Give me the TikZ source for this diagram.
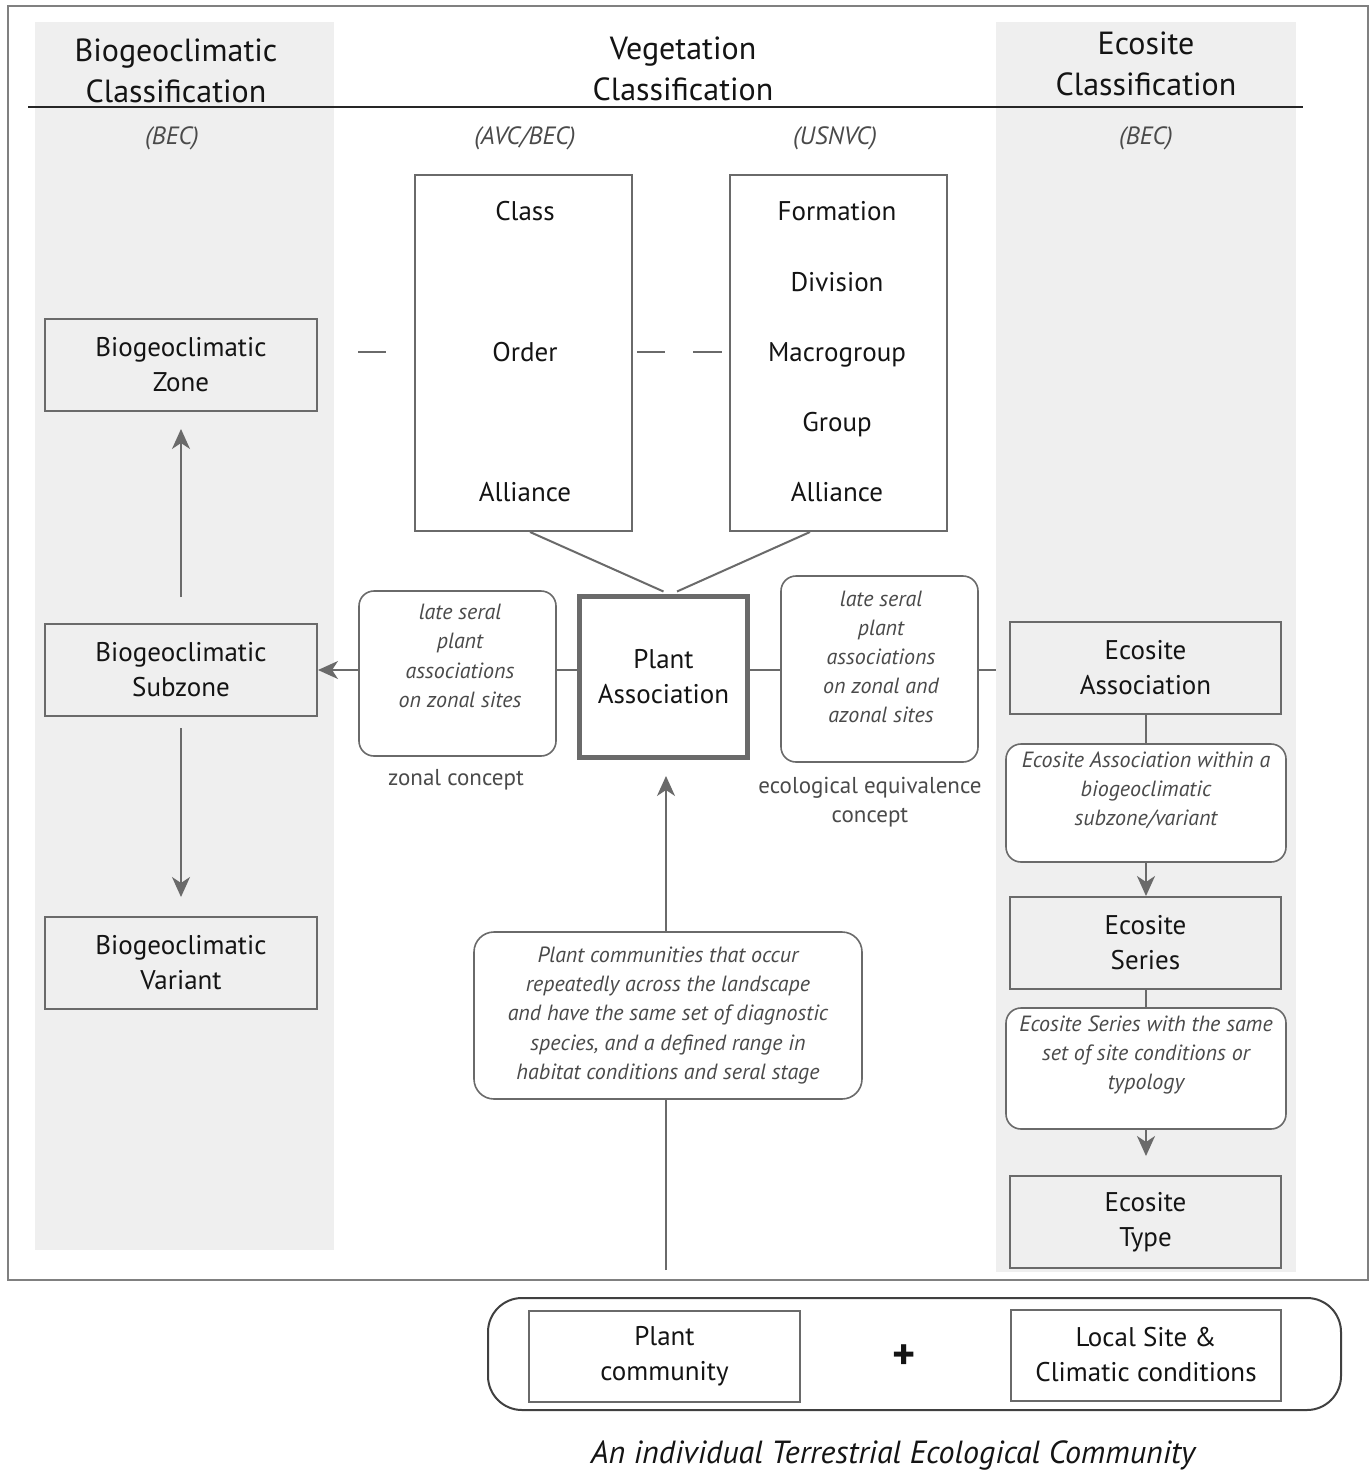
\documentclass[tikz,border=0pt]{standalone}
\usepackage{fontspec}
\setmainfont{PT Sans}
\usetikzlibrary{arrows.meta,calc}
\definecolor{bandc}{HTML}{EFEFEF}
\definecolor{linec}{HTML}{6A6A6A}
\definecolor{framec}{HTML}{808080}
\definecolor{txtc}{HTML}{141414}
\definecolor{itxtc}{HTML}{4A4A4A}
\newcommand{\boxfont}{\fontsize{13.5}{17.5}\selectfont}
\newcommand{\headfont}{\fontsize{16}{20.5}\selectfont}
\newcommand{\itfont}{\fontsize{11}{14.6}\selectfont\itshape}
\begin{document}
\begin{tikzpicture}[x=0.5pt,y=-0.5pt,
  sqbox/.style={draw=linec, line width=1pt, align=center, font=\boxfont, text=txtc,
    inner sep=0pt, minimum width=136pt, minimum height=46pt},
  tallbox/.style={draw=linec, line width=1pt, inner sep=0pt,
    minimum width=108.5pt, minimum height=178pt},
  pabox/.style={draw=linec, line width=2.5pt, align=center, font=\boxfont, text=txtc,
    inner sep=0pt, minimum width=84pt, minimum height=80.5pt},
  rbox/.style={draw=linec, line width=0.8pt, fill=white, rounded corners=7.5pt, inner sep=0pt},
  item/.style={font=\boxfont, text=txtc, inner sep=0pt, text height=9.6pt, text depth=0pt},
  itxt/.style={font=\itfont, text=itxtc, align=center, inner sep=0pt},
  head/.style={font=\headfont, text=txtc, align=center, inner sep=0pt},
  paren/.style={font=\fontsize{12.5}{14}\selectfont\itshape, text=itxtc, inner sep=0pt},
  note/.style={font=\fontsize{11.5}{14.6}\selectfont, text=itxtc, align=center, inner sep=0pt},
  conn/.style={draw=linec, line width=1pt},
  arr/.style={draw=linec, line width=1pt, -{Stealth[length=10pt,width=9pt,inset=3pt]}, color=linec}
]
\useasboundingbox (0,0) rectangle (1370,1473);
\fill[white] (0,0) rectangle (1370,1473);
% background bands
\fill[bandc] (35,22) rectangle (334,1250);
\fill[bandc] (996,22) rectangle (1296,1272);
% frame and heading rule
\draw[framec, line width=1.2pt] (8,6) rectangle (1368,1280);
\draw[black!85, line width=1.1pt] (28,107) -- (1303,107);

% headings
\node[head] (h1) at (176,71) {Biogeoclimatic\\Classification};
\node[head] (h2) at (683,69) {Vegetation\\Classification};
\node[head] (h3) at (1146,64) {Ecosite\\Classification};
\node[paren] (p1) at (172,138) {(BEC)};
\node[paren] (p2) at (525,138) {(AVC/BEC)};
\node[paren] (p3) at (835,138) {(USNVC)};
\node[paren] (p4) at (1146,138) {(BEC)};

% biogeoclimatic column
\node[sqbox] (bz) at (181,365) {Biogeoclimatic\\Zone};
\node[sqbox] (bs) at (181,670) {Biogeoclimatic\\Subzone};
\node[sqbox] (bv) at (181,963) {Biogeoclimatic\\Variant};
\draw[arr, shorten <=13pt, shorten >=8.5pt] (bs.north) -- (bz.south);
\draw[arr, shorten <=5.5pt, shorten >=9.5pt] (bs.south) -- (bv.north);

% vegetation hierarchy boxes
\node[tallbox] (avc) at (523.5,353) {};
\node[item] (tclass) at (525,211) {Class};
\node[item] (torder) at (525,352) {Order};
\node[item] (tall1) at (525,492) {Alliance};
\node[tallbox] (usn) at (838.5,353) {};
\node[item] (tform) at (837,211) {Formation};
\node[item] (tdiv) at (837,282) {Division};
\node[item] (tmacro) at (837,352) {Macrogroup};
\node[item] (tgroup) at (837,422) {Group};
\node[item] (tall2) at (837,492) {Alliance};
% dashes
\draw[conn] (358,352) -- (386,352);
\draw[conn] (637,352) -- (665,352);
\draw[conn] (693,352) -- (722,352);

% plant association
\node[pabox] (pa) at (663.5,677) {Plant\\Association};
\draw[conn] ([xshift=3.25pt]avc.south) -- ([yshift=1.25pt]pa.north);
\draw[conn] ([xshift=-14.25pt]usn.south) -- ([xshift=6.75pt,yshift=1.25pt]pa.north);

% left rounded box
\node[rbox, minimum width=98.5pt, minimum height=82.5pt] (lrb) at (457.5,673.5) {};
\node[itxt] (lrbt) at (460,656) {late seral\\plant\\associations\\on zonal sites};
\draw[conn] (pa.west |- bs.east) -- (lrb.east |- bs.east);
\draw[arr] (lrb.west |- bs.east) -- (bs.east);
\node[note] (zc) at (456,780) {zonal concept};

% right rounded box
\node[rbox, minimum width=98.5pt, minimum height=93pt] (rrb) at (879.5,669) {};
\node[itxt] (rrbt) at (881,657) {late seral\\plant\\associations\\on zonal and\\azonal sites};
\coordinate (bandedge) at (996,670);
\draw[conn] (pa.east |- bs.east) -- (rrb.west |- bs.east);
\draw[conn] (rrb.east |- bs.east) -- (bandedge);
\node[note] (eec) at (870,802) {ecological equivalence\\concept};

% ecosite column
\node[sqbox, minimum width=135.5pt] (ea) at (1145.5,668) {Ecosite\\Association};
\node[rbox, minimum width=140pt, minimum height=59pt] (er1) at (1146,803) {};
\node[itxt] (er1t) at (1146,790) {Ecosite Association within a\\biogeoclimatic\\subzone/variant};
\node[sqbox, minimum width=135.5pt] (es) at (1145.5,943) {Ecosite\\Series};
\node[rbox, minimum width=140pt, minimum height=60.5pt] (er2) at (1146,1068.5) {};
\node[itxt] (er2t) at (1146,1055) {Ecosite Series with the same\\set of site conditions or\\typology};
\node[sqbox, minimum width=135.5pt] (et) at (1145.5,1222) {Ecosite\\Type};
\draw[conn] (ea.south -| er1.north) -- (er1.north);
\draw[arr] (er1.south) -- (es.north -| er1.south);
\draw[conn] (es.south -| er2.north) -- (er2.north);
\draw[arr, shorten >=9.5pt] (er2.south) -- (et.north -| er2.south);

% central definition box and vertical arrow
\coordinate (bottomstart) at (666,1270);
\node[rbox, rounded corners=10pt, minimum width=194pt, minimum height=83.5pt, align=center, font=\itfont, text=itxtc] (cb) at (668,1015.5)
  {Plant communities that occur\\repeatedly across the landscape\\and have the same set of diagnostic\\species, and a defined range in\\habitat conditions and seral stage};
\draw[conn] (bottomstart) -- (cb.south -| bottomstart);
\draw[arr, shorten >=8pt] (cb.north -| bottomstart) -- (pa.south -| bottomstart);

% bottom composition
\node[draw=black!75, line width=1pt, rounded corners=17pt, minimum width=426.5pt, minimum height=56pt, inner sep=0pt] (outer) at (914.5,1354) {};
\node[sqbox, minimum width=135.5pt, minimum height=45.5pt] (pc) at (664.5,1356.5) {Plant\\community};
\node[sqbox, minimum width=135pt, minimum height=45.5pt] (ls) at (1146,1355) {Local Site \&\\Climatic conditions};
\node[font=\fontsize{22}{22}\selectfont\bfseries, text=txtc, inner sep=0pt] (plus) at (904,1357) {+};
\node[font=\fontsize{16}{20}\selectfont\itshape, text=txtc, inner sep=0pt] (cap) at (893,1455) {An individual Terrestrial Ecological Community};
\end{tikzpicture}
\end{document}
